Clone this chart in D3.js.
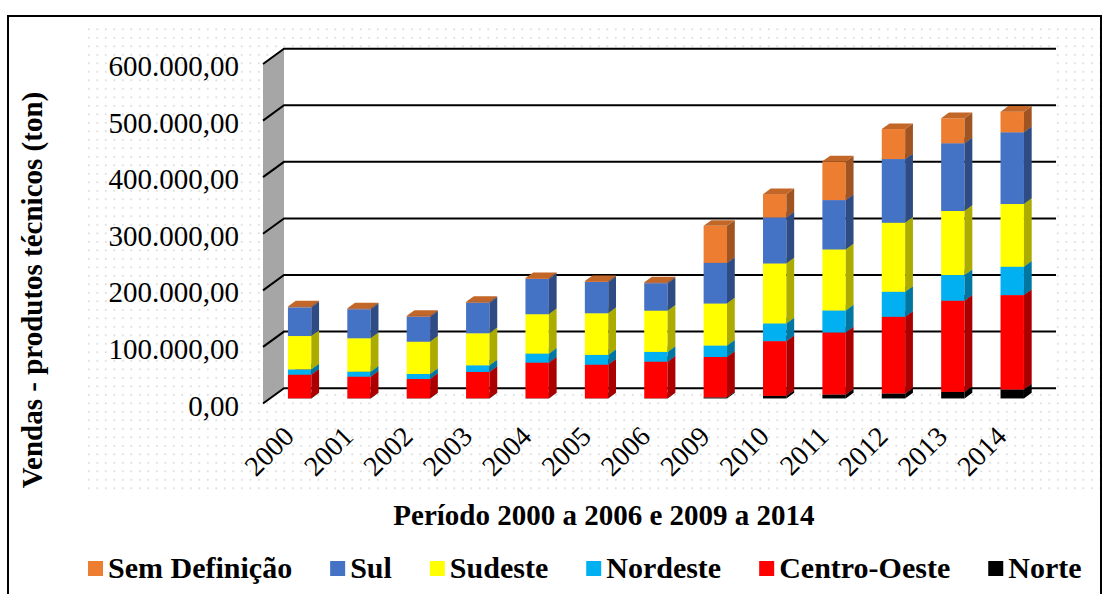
<!DOCTYPE html>
<html>
<head>
<meta charset="utf-8">
<script src="https://cdn.jsdelivr.net/npm/d3@7"></script>
<style>
  body { margin: 0; background: #fff; }
  svg text { font-family: 'Liberation Serif', 'DejaVu Serif', serif; fill: #000; }
</style>
</head>
<body>
<script>
// data (ton)
var years = ["2000","2001","2002","2003","2004","2005","2006","2009","2010","2011","2012","2013","2014"];
var norte       = [300, 300, 300, 300, 300, 300, 300, 2000, 4600, 7000, 8800, 11700, 15900];
var centroOeste = [41700, 38200, 34100, 46500, 63000, 59400, 64700, 71300, 96700, 109600, 135500, 161000, 166800];
var nordeste    = [9400, 8800, 8800, 11800, 15900, 17200, 17200, 20200, 31300, 38900, 44200, 45400, 50000];
var sudeste     = [58900, 59100, 57100, 56600, 69700, 73700, 73000, 74300, 106000, 107900, 122000, 113200, 110900];
var sul         = [50700, 51300, 44200, 54100, 62400, 55300, 48500, 71800, 81300, 87200, 112600, 119700, 126800];
var semDef      = [1500, 1500, 1500, 1500, 1500, 1500, 1500, 65400, 41200, 68400, 53000, 44200, 36400];
var yTicks = [0, 100000, 200000, 300000, 400000, 500000, 600000];

var seriesNames = ["Norte", "Centro-Oeste", "Nordeste", "Sudeste", "Sul", "Sem Definição"];
var seriesValues = [norte, centroOeste, nordeste, sudeste, sul, semDef];
var seriesColors = ["#000000", "#FF0000", "#00B0F0", "#FFFF00", "#4472C4", "#ED7D31"];
var legendOrder = ["Sem Definição", "Sul", "Sudeste", "Nordeste", "Centro-Oeste", "Norte"];

var w = 1105, h = 594;
var serif = "'Liberation Serif', 'DejaVu Serif', serif";

// table for d3.stack
var table = years.map(function(y, i) {
  var row = { year: y };
  seriesNames.forEach(function(s, k) { row[s] = seriesValues[k][i]; });
  return row;
});
var stacked = d3.stack().keys(seriesNames)(table);
var colorOf = d3.scaleOrdinal().domain(seriesNames).range(seriesColors);

function shade(c, f) {
  var r = d3.rgb(c);
  return d3.rgb(r.r * f, r.g * f, r.b * f).toString();
}

var svg = d3.select("body").append("svg")
  .attr("width", w)
  .attr("height", h)
  .attr("font-family", serif);

// dotted plot-area fill
var pat = svg.append("defs").append("pattern")
  .attr("id", "dots")
  .attr("patternUnits", "userSpaceOnUse")
  .attr("width", 8.5).attr("height", 8.5);
pat.append("rect").attr("width", 1.6).attr("height", 1.6).attr("x", 3).attr("y", 3).attr("fill", "#d4d4d4");
svg.append("rect")
  .attr("x", 85).attr("y", 28)
  .attr("width", 1015).attr("height", 468)
  .attr("fill", "url(#dots)");

// outer frame
svg.append("rect")
  .attr("x", 8).attr("y", 16)
  .attr("width", 1093).attr("height", 620)
  .attr("fill", "none").attr("stroke", "#000").attr("stroke-width", 2);

// 3D geometry: front plane + depth offset
var depthX = 21, depthY = -15.3;
var t1 = 0.33, t2 = 0.70;   // bar front / back depth fraction

var xScale = d3.scaleBand()
  .domain(years)
  .range([263, 1035]);
var yScale = d3.scaleLinear()
  .domain([0, 600000])
  .range([403.5, 64]);

var xl = xScale.range()[0], xr = xScale.range()[1];
var yBot = yScale(0), yTop = yScale(600000);

// side wall
svg.append("polygon")
  .attr("points", [[xl, yTop], [xl + depthX, yTop + depthY], [xl + depthX, yBot + depthY], [xl, yBot]].join(" "))
  .attr("fill", "#A6A6A6");
// back wall
svg.append("rect")
  .attr("x", xl + depthX).attr("y", yTop + depthY)
  .attr("width", xr - xl).attr("height", yBot - yTop)
  .attr("fill", "#fff");

// gridlines
var grid = svg.append("g").attr("stroke", "#000").attr("stroke-width", 2).attr("fill", "none");
yTicks.forEach(function(v) {
  var yf = yScale(v);
  grid.append("polyline")
    .attr("points", [[xl, yf], [xl + depthX, yf + depthY], [xr + depthX, yf + depthY]].join(" "));
});

// y tick labels
svg.append("g").selectAll("text")
  .data(yTicks)
  .join("text")
  .attr("x", 239)
  .attr("y", function(d) { return yScale(d) + 2; })
  .attr("text-anchor", "end")
  .attr("dominant-baseline", "central")
  .attr("font-family", serif)
  .style("font-size", "29px")
  .text(function(d) { return d3.format(",.2f")(d).replace(/,/g, "#").replace(".", ",").replace(/#/g, "."); });

// bars
var bw = xScale.bandwidth();
var barW = bw * 0.394;
var ddx = depthX * (t2 - t1), ddy = depthY * (t2 - t1);
var bars = svg.append("g");
years.forEach(function(yr, i) {
  var bx = xScale(yr) + (bw - barW) / 2 + depthX * t1;
  stacked.forEach(function(layer) {
    var d = layer[i];
    if (d[1] - d[0] <= 0) return;
    var c = colorOf(layer.key);
    var ya = yScale(d[1]) + depthY * t1;
    var yb = yScale(d[0]) + depthY * t1;
    bars.append("rect")
      .attr("x", bx).attr("y", ya)
      .attr("width", barW).attr("height", yb - ya)
      .attr("fill", c);
    bars.append("polygon")
      .attr("points", [[bx + barW, ya], [bx + barW + ddx, ya + ddy], [bx + barW + ddx, yb + ddy], [bx + barW, yb]].join(" "))
      .attr("fill", shade(c, 0.67));
    bars.append("polygon")
      .attr("points", [[bx, ya], [bx + barW, ya], [bx + barW + ddx, ya + ddy], [bx + ddx, ya + ddy]].join(" "))
      .attr("fill", layer.key === "Norte" ? "#333" : shade(c, 0.82));
  });
});

// x labels
svg.append("g").selectAll("text")
  .data(years)
  .join("text")
  .attr("transform", function(d) {
    return "translate(" + (xScale(d) + bw / 2 + depthX * t1 - 4) + ",438) rotate(-45)";
  })
  .attr("text-anchor", "end")
  .attr("font-family", serif)
  .style("font-size", "28px")
  .text(function(d) { return d; });

// axis titles
svg.append("text")
  .attr("transform", "translate(42,290) rotate(-90)")
  .attr("text-anchor", "middle")
  .attr("font-family", serif)
  .style("font-size", "29px")
  .style("font-weight", "bold")
  .text("Vendas - produtos técnicos (ton)");
svg.append("text")
  .attr("x", 604).attr("y", 525)
  .attr("text-anchor", "middle")
  .attr("font-family", serif)
  .style("font-size", "29px")
  .style("font-weight", "bold")
  .text("Período 2000 a 2006 e 2009 a 2014");

// legend
var legend = svg.append("g");
var lx = 88;
legendOrder.forEach(function(name) {
  legend.append("rect")
    .attr("x", lx).attr("y", 561)
    .attr("width", 15).attr("height", 15)
    .attr("fill", colorOf(name));
  var t = legend.append("text")
    .attr("x", lx + 20).attr("y", 578)
    .attr("font-family", serif)
    .style("font-size", "30px")
    .style("font-weight", "bold")
    .text(name);
  lx += 20 + t.node().getComputedTextLength() + 38;
});
</script>
</body>
</html>
